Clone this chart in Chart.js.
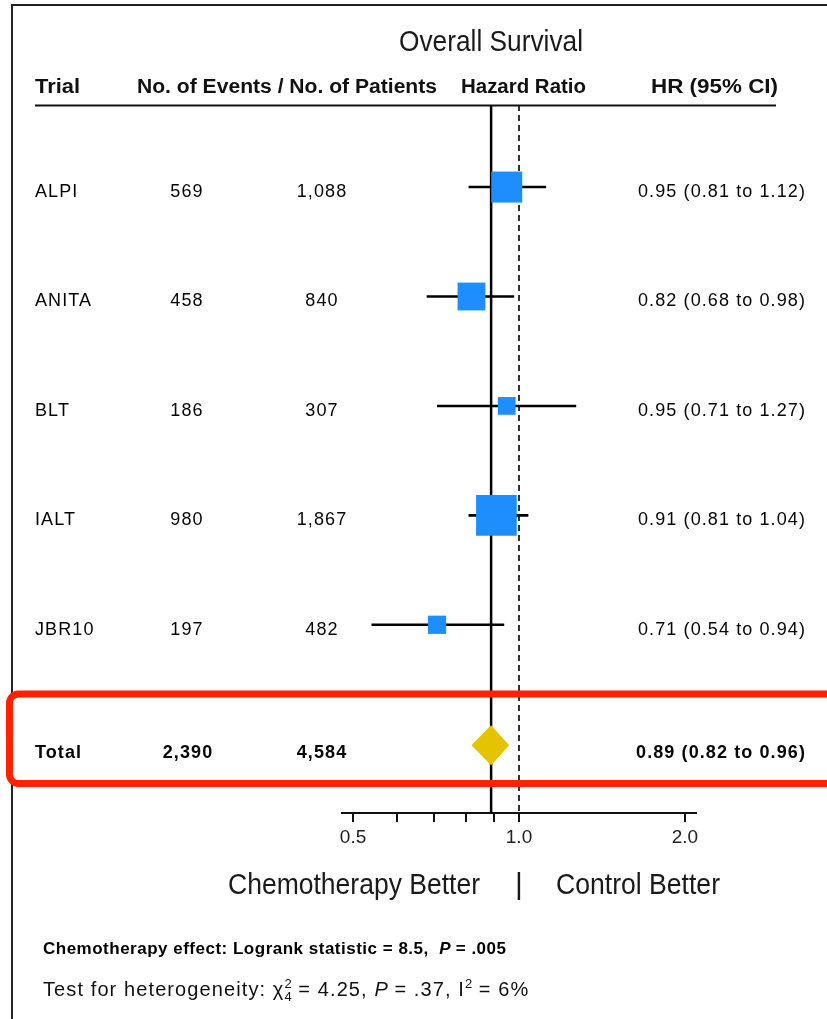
<!DOCTYPE html>
<html><head><meta charset="utf-8">
<script src="https://cdn.jsdelivr.net/npm/chart.js@4.4.1/dist/chart.umd.min.js"></script>
<style>html,body{margin:0;padding:0;background:#fff;}canvas{display:block;}</style>
</head><body>
<canvas id="c" width="827" height="1019"></canvas>
<script>
// ---- data ----
const trials = ['ALPI', 'ANITA', 'BLT', 'IALT', 'JBR10'];
const events = [569, 458, 186, 980, 197];
const patients = [1088, 840, 307, 1867, 482];
const hazardRatio = [0.95, 0.82, 0.95, 0.91, 0.71];
const ciLower = [0.81, 0.68, 0.71, 0.81, 0.54];
const ciUpper = [1.12, 0.98, 1.27, 1.04, 0.94];
const totalLabel = 'Total';
const totalEvents = [2390];
const totalPatients = [4584];
const totalHR = [0.89];
const totalLower = [0.82];
const totalUpper = [0.96];
const xTickValues = [0.5, 0.6, 0.7, 0.8, 0.9, 1.0, 2.0];
const xTickLabels = ['0.5', '', '', '', '', '1.0', '2.0'];
const titleText = 'Overall Survival';
const headers = ['Trial', 'No. of Events / No. of Patients', 'Hazard Ratio', 'HR (95% CI)'];
const leftLabel = 'Chemotherapy Better';
const rightLabel = 'Control Better';

// ---- helpers ----
const rowOf = i => i + 1;
const totalRow = trials.length + 1.1;
const fmtN = n => n.toLocaleString('en-US');
const fmtHR = (h, l, u) => `${h.toFixed(2)} (${l.toFixed(2)} to ${u.toFixed(2)})`;
const SANS = '"Liberation Sans", Arial, Helvetica, sans-serif';
const BLUE = '#1E8EFF', GOLD = '#E6C300', RED = '#FF2200';

function drawText(ctx, str, x, y, o) {
  ctx.save();
  ctx.font = o.font;
  ctx.fillStyle = o.color || '#111';
  ctx.textBaseline = 'alphabetic';
  ctx.textAlign = 'left';
  if ('letterSpacing' in ctx) ctx.letterSpacing = o.spacing || '0px';
  const w = ctx.measureText(str).width;
  const sx = o.width ? o.width / w : 1;
  const dw = w * sx;
  const align = o.align || 'left';
  const left = align === 'left' ? x : (align === 'right' ? x - dw : x - dw / 2);
  ctx.translate(left, y);
  ctx.scale(sx, 1);
  ctx.fillText(str, 0, 0);
  ctx.restore();
  return dw;
}

// rich text: segments {t, f (font), sup, pair}
function drawRich(ctx, segs, x, y, color) {
  let cx = x;
  for (let i = 0; i < segs.length; i++) {
    const s = segs[i];
    ctx.save();
    ctx.font = s.f;
    ctx.fillStyle = color;
    ctx.textBaseline = 'alphabetic';
    if ('letterSpacing' in ctx) ctx.letterSpacing = s.sp || '0px';
    if (s.pair) {
      ctx.fillText(s.pair[0], cx, y - 8);
      ctx.fillText(s.pair[1], cx, y + 5);
      cx += Math.max(ctx.measureText(s.pair[0]).width, ctx.measureText(s.pair[1]).width);
    } else if (s.sup) {
      ctx.fillText(s.t, cx, y - 8);
      cx += ctx.measureText(s.t).width;
    } else {
      ctx.fillText(s.t, cx, y);
      cx += ctx.measureText(s.t).width;
    }
    ctx.restore();
  }
}

const forestPlugin = {
  id: 'forest',
  beforeDatasetsDraw(chart) {
    const { ctx, chartArea: a, scales: { x } } = chart;
    ctx.save();
    const px = x.getPixelForValue(totalHR[0]);
    ctx.strokeStyle = '#000';
    ctx.lineWidth = 2.5;
    ctx.beginPath(); ctx.moveTo(px, a.top); ctx.lineTo(px, a.bottom); ctx.stroke();
    const p1 = x.getPixelForValue(1.0);
    ctx.lineWidth = 1.6;
    ctx.setLineDash([6, 4]);
    ctx.beginPath(); ctx.moveTo(p1, a.top); ctx.lineTo(p1, a.bottom); ctx.stroke();
    ctx.restore();
  },
  afterDatasetsDraw(chart) {
    const { ctx, scales: { x, y } } = chart;
    const yc = y.getPixelForValue(totalRow);
    const xl = x.getPixelForValue(totalLower[0]);
    const xm = x.getPixelForValue(totalHR[0]);
    const xr = x.getPixelForValue(totalUpper[0]);
    const h = 20;
    ctx.save();
    ctx.fillStyle = GOLD;
    ctx.beginPath();
    ctx.moveTo(xl, yc); ctx.lineTo(xm, yc - h); ctx.lineTo(xr, yc); ctx.lineTo(xm, yc + h);
    ctx.closePath(); ctx.fill();
    ctx.restore();
  },
  afterDraw(chart) {
    const { ctx, scales: { y } } = chart;
    ctx.save();
    ctx.strokeStyle = '#222';
    ctx.lineWidth = 2;
    ctx.beginPath(); ctx.moveTo(12, 1019); ctx.lineTo(12, 5); ctx.lineTo(827, 5); ctx.stroke();
    ctx.lineWidth = 2.2;
    ctx.strokeStyle = '#111';
    ctx.beginPath(); ctx.moveTo(35, 105.5); ctx.lineTo(776, 105.5); ctx.stroke();

    drawText(ctx, titleText, 491, 51, { font: `29px ${SANS}`, align: 'center', width: 184, color: '#1a1a1a' });
    const hf = `bold 20px ${SANS}`;
    drawText(ctx, headers[0], 35, 93, { font: hf, width: 45 });
    drawText(ctx, headers[1], 137, 93, { font: hf, width: 300 });
    drawText(ctx, headers[2], 461, 93, { font: hf, width: 125 });
    drawText(ctx, headers[3], 651, 93, { font: hf, width: 127 });

    const rf = `18px ${SANS}`;
    const sp = '1.1px';
    const rc = '#050505';
    trials.forEach((t, i) => {
      const by = y.getPixelForValue(rowOf(i)) + 10;
      drawText(ctx, t, 35, by, { font: rf, spacing: sp, color: rc });
      drawText(ctx, fmtN(events[i]), 187, by, { font: rf, spacing: sp, align: 'center', color: rc });
      drawText(ctx, fmtN(patients[i]), 322, by, { font: rf, spacing: sp, align: 'center', color: rc });
      drawText(ctx, fmtHR(hazardRatio[i], ciLower[i], ciUpper[i]), 806, by, { font: rf, spacing: sp, align: 'right', color: rc });
    });
    const bf = `bold 18px ${SANS}`;
    const ty = y.getPixelForValue(totalRow) + 13;
    drawText(ctx, totalLabel, 35, ty, { font: bf, spacing: sp, color: rc });
    drawText(ctx, fmtN(totalEvents[0]), 188, ty, { font: bf, spacing: sp, align: 'center', color: rc });
    drawText(ctx, fmtN(totalPatients[0]), 322, ty, { font: bf, spacing: sp, align: 'center', color: rc });
    drawText(ctx, fmtHR(totalHR[0], totalLower[0], totalUpper[0]), 806, ty, { font: bf, spacing: sp, align: 'right', color: rc });

    drawText(ctx, leftLabel, 228, 894, { font: `29px ${SANS}`, width: 252, color: '#1a1a1a' });
    drawText(ctx, '|', 519, 894, { font: `30px ${SANS}`, align: 'center', color: '#1a1a1a' });
    drawText(ctx, rightLabel, 556, 894, { font: `29px ${SANS}`, width: 164, color: '#1a1a1a' });

    const nb = `bold 17px ${SANS}`, nbi = `italic bold 17px ${SANS}`;
    drawRich(ctx, [
      { t: 'Chemotherapy effect: Logrank statistic = 8.5,  ', f: nb, sp: '0.5px' },
      { t: 'P', f: nbi },
      { t: ' = .005', f: nb, sp: '0.5px' }
    ], 43, 954, '#000');
    const nr = `20px ${SANS}`, ni = `italic 20px ${SANS}`, ns = `13px ${SANS}`;
    drawRich(ctx, [
      { t: 'Test for heterogeneity: \u03C7', f: nr, sp: '1.1px' },
      { pair: ['2', '4'], f: ns },
      { t: ' = 4.25, ', f: nr, sp: '1.1px' },
      { t: 'P', f: ni },
      { t: ' = .37, I', f: nr, sp: '1.1px' },
      { sup: true, t: '2', f: ns },
      { t: ' = 6%', f: nr, sp: '1.1px' }
    ], 43, 996, '#111');

    ctx.strokeStyle = RED;
    ctx.lineWidth = 7;
    ctx.setLineDash([]);
    ctx.beginPath();
    if (ctx.roundRect) ctx.roundRect(9.5, 694, 840, 89.5, 9); else ctx.rect(9.5, 694, 840, 89.5);
    ctx.stroke();
    ctx.restore();
  }
};

const ciData = [];
trials.forEach((t, i) => {
  ciData.push({ x: ciLower[i], y: rowOf(i) }, { x: ciUpper[i], y: rowOf(i) }, { x: null, y: null });
});
const boxScale = 1.3; // square side ~ sqrt(events)
const squareData = hazardRatio.map((h, i) => ({ x: h, y: rowOf(i) }));
const squareRadius = events.map(e => Math.sqrt(e) * boxScale / Math.SQRT2);

new Chart(document.getElementById('c'), {
  type: 'scatter',
  data: {
    datasets: [
      {
        label: 'HR',
        data: squareData,
        pointStyle: 'rect',
        pointRadius: squareRadius,
        pointHoverRadius: squareRadius,
        backgroundColor: BLUE,
        borderWidth: 0,
        pointBorderWidth: 0
      },
      {
        type: 'line',
        label: '95% CI',
        data: ciData,
        borderColor: '#000',
        borderWidth: 2.6,
        pointRadius: 0,
        pointHoverRadius: 0,
        spanGaps: false,
        fill: false
      }
    ]
  },
  options: {
    responsive: false,
    animation: false,
    devicePixelRatio: 1,
    events: [],
    layout: { padding: { left: 342, right: 131, top: 105, bottom: 166 } },
    plugins: { legend: { display: false }, tooltip: { enabled: false }, title: { display: false } },
    scales: {
      x: {
        type: 'logarithmic',
        position: 'bottom',
        min: 0.4774,
        max: 2.0946,
        afterBuildTicks(scale) { scale.ticks = xTickValues.map(v => ({ value: v })); },
        afterFit(scale) { scale.height = 40; },
        ticks: {
          autoSkip: false,
          maxRotation: 0,
          padding: 4,
          color: '#222',
          font: { family: SANS, size: 19 },
          callback: (v, i) => xTickLabels[i]
        },
        grid: { display: true, drawOnChartArea: false, drawTicks: true, tickLength: 9, color: '#111', lineWidth: 2 },
        border: { display: true, color: '#111', width: 2 }
      },
      y: {
        type: 'linear',
        reverse: true,
        min: 0.25,
        max: 6.72,
        display: false
      }
    }
  },
  plugins: [forestPlugin]
});
</script>
</body></html>
